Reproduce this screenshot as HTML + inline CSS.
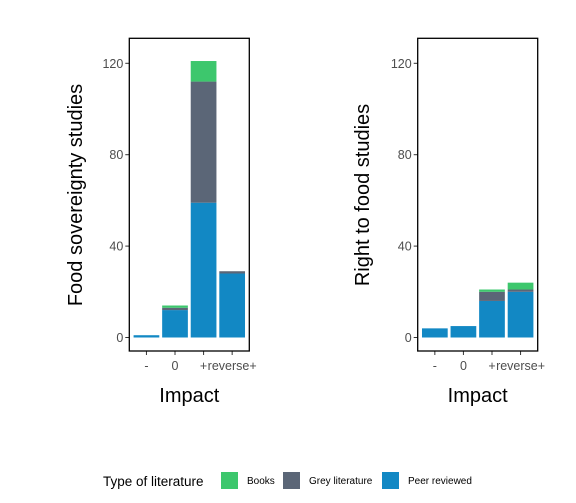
<!DOCTYPE html>
<html><head><meta charset="utf-8"><style>
body{margin:0;background:#fff;}
svg{display:block;font-family:"Liberation Sans",Arial,sans-serif;}
</style></head><body>
<svg id="chart" width="576" height="503"></svg>
<script>
const categories = ["-", "0", "+", "reverse+"];
const fsPeer = [1, 12, 59, 28];
const fsGrey = [0, 1, 53, 1];
const fsBooks = [0, 1, 9, 0];
const rfPeer = [4, 5, 16, 20];
const rfGrey = [0, 0, 4, 1];
const rfBooks = [0, 0, 1, 3];
const yTicks = [0, 40, 80, 120];
const legendLabels = ["Books", "Grey literature", "Peer reviewed"];

const colors = {books:"#3dc76d", grey:"#5b6677", peer:"#1288c4"};
const NS = "http://www.w3.org/2000/svg";
const svg = document.getElementById("chart");
function mk(tag, attrs, parent){const e=document.createElementNS(NS,tag);for(const k in attrs)e.setAttribute(k,attrs[k]);(parent||svg).appendChild(e);return e;}

const y0 = 337.5, yTop = 38.3, yBot = 351, pxPerUnit = 2.285;
function yScale(v){return y0 - v*pxPerUnit;}

function panel(x0, title, peer, grey, books, name){
  const w = 120, unit = w/4.2;
  function xScale(i){return x0 + (0.6 + i)*unit;}
  const g = mk("g",{});
  
  
  const series = [["peer",peer],["grey",grey],["books",books]];
  categories.forEach((c,i)=>{
    let base = 0;
    series.forEach(([k,arr])=>{
      const v = arr[i];
      if(v>0){
        const r = mk("rect",{x:xScale(i)-0.45*unit,y:yScale(base+v),width:0.9*unit,height:v*pxPerUnit,fill:colors[k]},g);
        
        
      }
      base += v;
    });
    mk("line",{x1:xScale(i),x2:xScale(i),y1:yBot,y2:yBot+4,stroke:"#333","stroke-width":1},g);
    const t = mk("text",{x:xScale(i),y:370,"text-anchor":"middle","font-size":12.5,fill:"#4d4d4d"},g);
    t.textContent = c;
    
    
  });
  yTicks.forEach(v=>{
    mk("line",{x1:x0-4,x2:x0,y1:yScale(v),y2:yScale(v),stroke:"#333","stroke-width":1},g);
    const t = mk("text",{x:x0-6,y:yScale(v)+4.5,"text-anchor":"end","font-size":12.5,fill:"#4d4d4d"},g);
    t.textContent = v;
    
    
  });
  const f = mk("rect",{x:x0,y:yTop,width:w,height:yBot-yTop,fill:"none",stroke:"#000","stroke-width":1.3},g);
  
  
  const xt = mk("text",{x:x0+w/2,y:402,"text-anchor":"middle","font-size":20,fill:"#000"},g);
  xt.textContent = "Impact";
  
  
  return g;
}
panel(129.3, "Food sovereignty studies", fsPeer, fsGrey, fsBooks, "food-sovereignty-panel");
panel(417.7, "Right to food studies", rfPeer, rfGrey, rfBooks, "right-to-food-panel");

function ytitle(x, text){
  const t = mk("text",{x:0,y:0,"text-anchor":"middle","font-size":20,fill:"#000",transform:`translate(${x},195) rotate(-90)`});
  t.textContent = text;
  
  
}
ytitle(82, "Food sovereignty studies");
ytitle(369, "Right to food studies");

const lt = mk("text",{x:103,y:486,"font-size":13.5,fill:"#000"});
lt.textContent = "Type of literature";


const keyX = [221, 283, 382];
const keyCol = [colors.books, colors.grey, colors.peer];
legendLabels.forEach((l,i)=>{
  const r = mk("rect",{x:keyX[i],y:472,width:17,height:17,fill:keyCol[i]});
  
  
  const t = mk("text",{x:keyX[i]+26,y:484,"font-size":10,fill:"#000"});
  t.textContent = l;
  
  
});
</script>
</body></html>
